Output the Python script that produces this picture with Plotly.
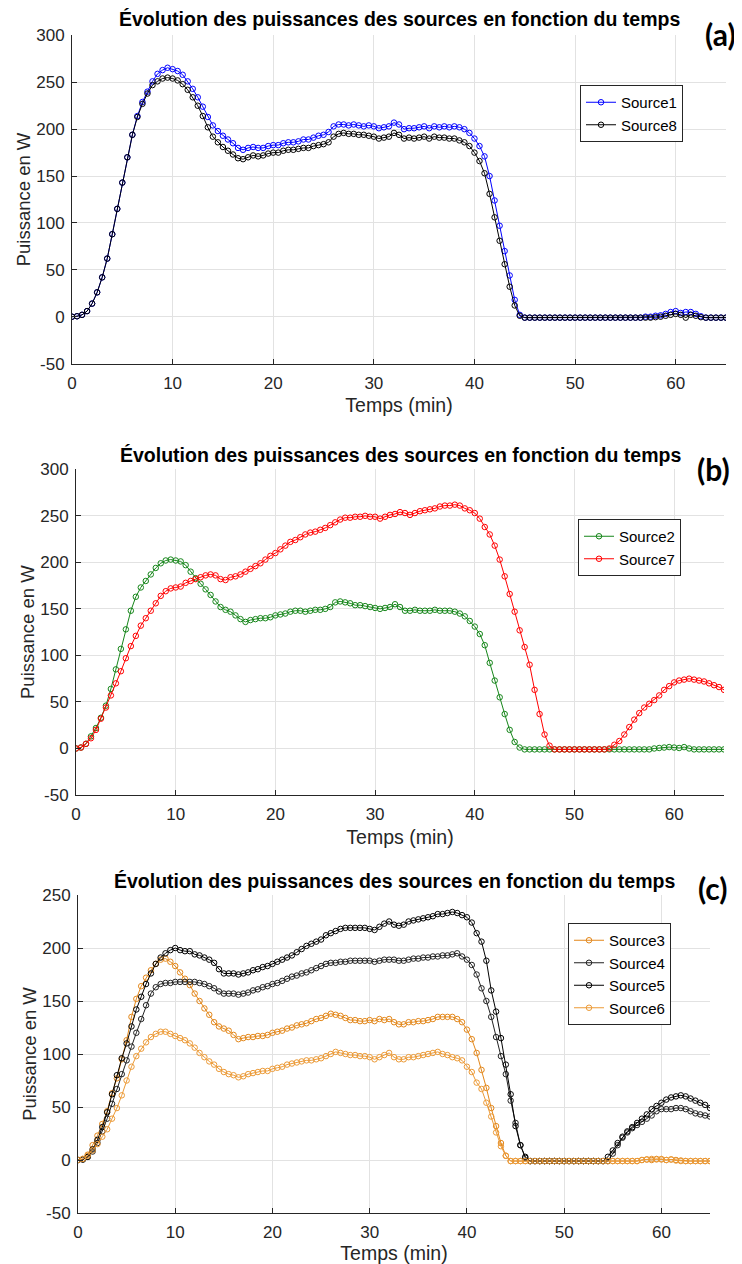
import numpy as np
import plotly.graph_objects as go

# sample times (min)
t = np.arange(0, 65.01, 0.5)

# ---- panel (a) ----
source1 = [0, 0.5, 2, 6, 14, 26, 42, 62, 88, 115,
           143, 170, 194, 214, 229, 240, 251, 259, 263, 265.5,
           264, 262, 258, 251, 243, 234, 224, 213, 204, 198,
           193, 189, 185, 180, 178, 180, 181, 180, 180, 182,
           183, 183, 185, 186, 186, 187, 189, 189, 191, 193,
           194, 197, 203, 205, 205, 204, 205, 204, 203, 204,
           203, 201, 202, 203, 207, 205, 200, 201, 201, 202,
           203, 201, 203, 202, 203, 202, 203, 202, 200, 196,
           190, 182, 171, 150, 124, 97, 70, 44, 18, 2,
           -1, -1, -1, -1, -1, -1, -1, -1, -1, -1,
           -1, -1, -1, -1, -1, -1, -1, -1, -1, -1,
           -1, -1, -1, -1, 0, 0, 1, 1.5, 3, 5,
           6, 4, 5, 5, 3, 0.5, -1, -1, -1, -1,
           -1]
source8 = [0, 0.5, 2, 6, 14, 26, 42, 62, 88, 115,
           143, 170, 194, 213, 227, 238, 247, 251, 254, 255,
           254, 252, 248, 242, 234, 225, 214, 202, 192, 186,
           181, 177, 173, 169, 168, 170, 172, 171, 172, 174,
           175, 175, 177, 178, 178, 179, 180, 180, 182, 183,
           184, 186, 192, 195, 196, 195, 195, 194, 194, 193,
           192, 190, 191, 192, 196, 194, 190, 191, 190, 191,
           192, 190, 192, 191, 191, 190, 190, 188, 186, 182,
           175, 166, 153, 131, 106, 81, 56, 32, 12, 1,
           -1, -1, -1, -1, -1, -1, -1, -1, -1, -1,
           -1, -1, -1, -1, -1, -1, -1, -1, -1, -1,
           -1, -1, -1, -1, -1, -1, -0.5, 0, 1, 2,
           3, 2, -1, 2, 1, -0.5, -1, -1, -1, -1,
           -1]

# ---- panel (b) ----
source2 = [0, 1, 5, 13, 22, 33, 46, 64, 85, 107,
           128, 148, 163, 173, 180, 187, 194, 199, 202, 203,
           202, 201, 197, 190, 183, 177, 171, 165, 158, 152,
           149, 147, 143, 139, 136, 138, 139, 140, 140, 141,
           143, 144, 145, 147, 148, 148, 147, 148, 149, 149,
           150, 152, 157, 158, 157, 156, 154, 154, 153, 152,
           151, 150, 151, 152, 155, 152, 148, 148, 149, 148,
           148, 148, 149, 148, 148, 148, 147, 145, 142, 137,
           131, 123, 111, 92, 73, 55, 37, 20, 7, 1,
           -1, -1, -1, -1, -1, -1, -1, -1, -1, -1,
           -1, -1, -1, -1, -1, -1, -1, -1, -1, -1,
           -1, -1, -1, -1, -1, -1, 0, 0.5, 1, 1.5,
           1, 0.5, 1.5, 0, -1, -1, -1, -1, -1, -1,
           -1]
source7 = [0, 1, 5, 11, 20, 32, 44, 57, 70, 83,
           97, 110, 121, 132, 140, 148, 156, 164, 169, 172,
           173, 174, 178, 180, 182, 184, 186, 187, 186, 182,
           181, 184, 185, 187, 190, 193, 196, 199, 203, 207,
           210, 214, 218, 222, 224, 227, 230, 232, 233, 235,
           237, 240, 243, 246, 248, 248, 249, 249, 250, 249,
           249, 247, 249, 251, 252, 254, 253, 251, 253, 255,
           256, 257, 258, 260, 261, 261, 262, 261, 258, 256,
           253, 247, 238, 230, 218, 203, 185, 166, 147, 127,
           109, 90, 63, 37, 15, 3, -1, -1, -1, -1,
           -1, -1, -1, -1, -1, -1, -1, 0, 4, 8,
           15, 23, 31, 38, 44, 48, 52, 57, 63, 67,
           71, 73, 74, 75, 74, 73, 72, 70, 68, 66,
           63]

# ---- panel (c) ----
source3 = [0, 1, 5, 14, 23, 34, 46, 63, 77, 95,
           113, 135, 152, 164, 172, 179, 185, 189, 190, 187,
           183, 177, 171, 165, 157, 150, 143, 137, 130, 126,
           124, 122, 118, 114, 115, 116, 116, 117, 117, 118,
           120, 121, 122, 124, 125, 127, 128, 129, 131, 133,
           134, 136, 138, 137, 136, 134, 132, 132, 131, 131,
           132, 131, 133, 132, 133, 130, 128, 128, 130, 130,
           131, 131, 132, 133, 135, 135, 135, 135, 133, 130,
           123, 114, 101, 85, 68, 49, 32, 16, 4, -1,
           -1, -1, -1, -1, -1, -1, -1, -1, -1, -1,
           -1, -1, -1, -1, -1, -1, -1, -1, -1, -1,
           -1, -1, -1, -1, -1, -1, 0, 0.5, 0, 1,
           0.5, 0, 0.5, 0, -0.5, -1, -1, -1, -1, -1,
           -1]
source4 = [0, 0.5, 3, 8, 16, 27, 39, 53, 67, 81,
           94, 107, 120, 133, 146, 157, 163, 166, 167, 167,
           168, 168, 168, 168, 168, 167, 166, 164, 162, 159,
           157, 157, 157, 156, 157, 158, 160, 161, 163, 164,
           166, 167, 169, 171, 173, 174, 176, 177, 179, 181,
           183, 185, 186, 186, 187, 187, 188, 188, 188, 188,
           188, 187, 188, 189, 189, 189, 188, 188, 189, 190,
           190, 191, 191, 192, 192, 193, 193, 194, 195, 192,
           189, 184, 175, 162, 150, 135, 116, 98, 81, 56,
           35, 14, 2, -1, -1, -1, -1, -1, -1, -1,
           -1, -1, -1, -1, -1, -1, -1, -1, -1, -1,
           6, 14, 21, 26, 30, 33, 36, 39, 42, 46,
           48, 48, 48, 49, 49, 48, 46, 44, 43, 42,
           41]
source5 = [0, 0.5, 3, 10, 19, 31, 45, 62, 80, 96,
           110, 126, 142, 154, 166, 176, 185, 191, 195, 198,
           200, 198, 197, 197, 194, 193, 191, 189, 186, 180,
           176, 176, 176, 175, 176, 177, 179, 180, 182, 183,
           185, 187, 189, 191, 193, 196, 199, 202, 204, 206,
           208, 212, 214, 216, 218, 219, 219, 219, 219, 219,
           218, 217, 220, 223, 225, 222, 221, 222, 225, 226,
           227, 228, 229, 230, 232, 232, 233, 234, 233, 231,
           229, 224, 214, 206, 188, 160, 140, 115, 90, 62,
           32, 14, 3, -1, -1, -1, -1, -1, -1, -1,
           -1, -1, -1, -1, -1, -1, -1, -1, -1, 3,
           9, 16, 22, 27, 31, 35, 39, 43, 48, 51,
           54, 57, 59, 60, 61, 60, 58, 56, 54, 52,
           49]
source6 = [0, 1, 4, 9, 15, 22, 29, 39, 49, 61,
           75, 88, 98, 105, 111, 116, 119, 121, 121, 119,
           117, 115, 113, 110, 106, 101, 97, 93, 90, 86,
           83, 81, 80, 78, 79, 81, 82, 83, 84, 84,
           86, 87, 88, 90, 91, 92, 93, 94, 94, 95,
           96, 98, 100, 102, 101, 100, 99, 99, 98, 98,
           97, 95, 97, 99, 101, 97, 95, 95, 97, 97,
           98, 99, 100, 101, 102, 100, 99, 97, 96, 94,
           88, 83, 73, 67, 54, 41, 26, 13, 4, -1,
           -1, -1, -1, -1, -1, -1, -1, -1, -1, -1,
           -1, -1, -1, -1, -1, -1, -1, -1, -1, -1,
           -1, -1, -1, -1, -1, -1, 0, 0.5, 1, 0.5,
           1, 0, 0.5, -0.5, -1, -1, -1, -1, -1, -1,
           -1]

x_ticks = [0, 10, 20, 30, 40, 50, 60]
y_ticks_ab = [-50, 0, 50, 100, 150, 200, 250, 300]
y_ticks_c = [-50, 0, 50, 100, 150, 200, 250]
title_text = "Évolution des puissances des sources en fonction du temps"
panel_tags = ["(a)", "(b)", "(c)"]

# page is 742x1264; the html body keeps its default 8px margin
OFF = 8
W, H = 742 - OFF, 1264 - OFF
FONT = "Liberation Sans, Arial, sans-serif"
AX = "#262626"

def px_x(p):
    return (p - OFF) / W

def px_y(p):
    return 1 - (p - OFF) / H

fig = go.Figure()

series = [
    ("Source1", source1, "#0000FF", 1),
    ("Source8", source8, "#000000", 1),
    ("Source2", source2, "#16861A", 2),
    ("Source7", source7, "#FF0000", 2),
    ("Source3", source3, "#E3871A", 3),
    ("Source4", source4, "#222222", 3),
    ("Source5", source5, "#000000", 3),
    ("Source6", source6, "#EC9A36", 3),
]
for name, vals, col, p in series:
    sfx = "" if p == 1 else str(p)
    fig.add_trace(go.Scatter(
        x=t, y=vals, name=name, mode="lines+markers",
        line=dict(color=col, width=1),
        marker=dict(symbol="circle-open", size=5.5, color=col, line=dict(width=1, color=col)),
        xaxis="x" + sfx, yaxis="y" + sfx,
        legend="legend" + sfx,
    ))

# pixel geometry of each panel: (left, right, top, bottom, ymin, ymax, yticks)
panels = [
    (72, 726, 35.4, 363.6, -50, 300, y_ticks_ab),
    (76, 724, 469.3, 795, -50, 300, y_ticks_ab),
    (78, 710, 895, 1213, -50, 250, y_ticks_c),
]
layout = dict(width=W, height=H, margin=dict(l=0, r=0, t=0, b=0, autoexpand=False),
              paper_bgcolor="white", plot_bgcolor="white",
              font=dict(family=FONT, color=AX))
for i, (l, r, tp, bt, ymin, ymax, yt) in enumerate(panels):
    sfx = "" if i == 0 else str(i + 1)
    layout["xaxis" + sfx] = dict(
        domain=[px_x(l), px_x(r)], anchor="y" + sfx, range=[0, 65],
        tickvals=x_ticks, ticktext=[str(v) for v in x_ticks],
        showgrid=True, gridcolor="#e2e2e2", gridwidth=1,
        showline=True, linecolor=AX, linewidth=1, ticks="inside", ticklen=5,
        tickcolor=AX, zeroline=False, tickfont=dict(size=17, color=AX),
        ticklabelstandoff=4, automargin=False,
        title=dict(text="Temps (min)", font=dict(size=19.5, color=AX), standoff=6),
    )
    layout["yaxis" + sfx] = dict(
        domain=[px_y(bt), px_y(tp)], anchor="x" + sfx, range=[ymin, ymax],
        tickvals=yt, ticktext=[str(v) for v in yt],
        showgrid=True, gridcolor="#e2e2e2", gridwidth=1,
        showline=True, linecolor=AX, linewidth=1, ticks="inside", ticklen=5,
        tickcolor=AX, zeroline=False, tickfont=dict(size=17, color=AX),
        ticklabelstandoff=3, automargin=False,
        title=dict(text="Puissance en W", font=dict(size=18.5, color=AX), standoff=0),
    )

legend_pos = [(580, 85), (578, 519), (568, 923)]
for i, (lx, ly) in enumerate(legend_pos):
    key = "legend" if i == 0 else "legend" + str(i + 1)
    layout[key] = dict(x=px_x(lx), y=px_y(ly), xanchor="left", yanchor="top",
                       bordercolor=AX, borderwidth=1, bgcolor="white",
                       font=dict(size=15, color="#000000"), tracegroupgap=0,
                       itemwidth=30)

annotations = []
title_pos = [(399, 19), (400, 455), (394, 881)]
for (cx, cy) in title_pos:
    annotations.append(dict(x=px_x(cx), y=px_y(cy), xref="paper", yref="paper",
                            xanchor="center", yanchor="middle", showarrow=False,
                            text="<b>" + title_text + "</b>",
                            font=dict(size=19.5, color="#000000", family=FONT)))
tag_pos = [(720, 34), (713, 469), (713, 888)]
for tag, (cx, cy) in zip(panel_tags, tag_pos):
    annotations.append(dict(x=px_x(cx), y=px_y(cy), xref="paper", yref="paper",
                            xanchor="center", yanchor="middle", showarrow=False,
                            text="<b>" + tag + "</b>", bgcolor="white", borderpad=8,
                            font=dict(size=30, color="#000000", family="Lato, Carlito, sans-serif")))
layout["annotations"] = annotations
layout["showlegend"] = True

fig.update_layout(**layout)
fig.write_html("out.html")
